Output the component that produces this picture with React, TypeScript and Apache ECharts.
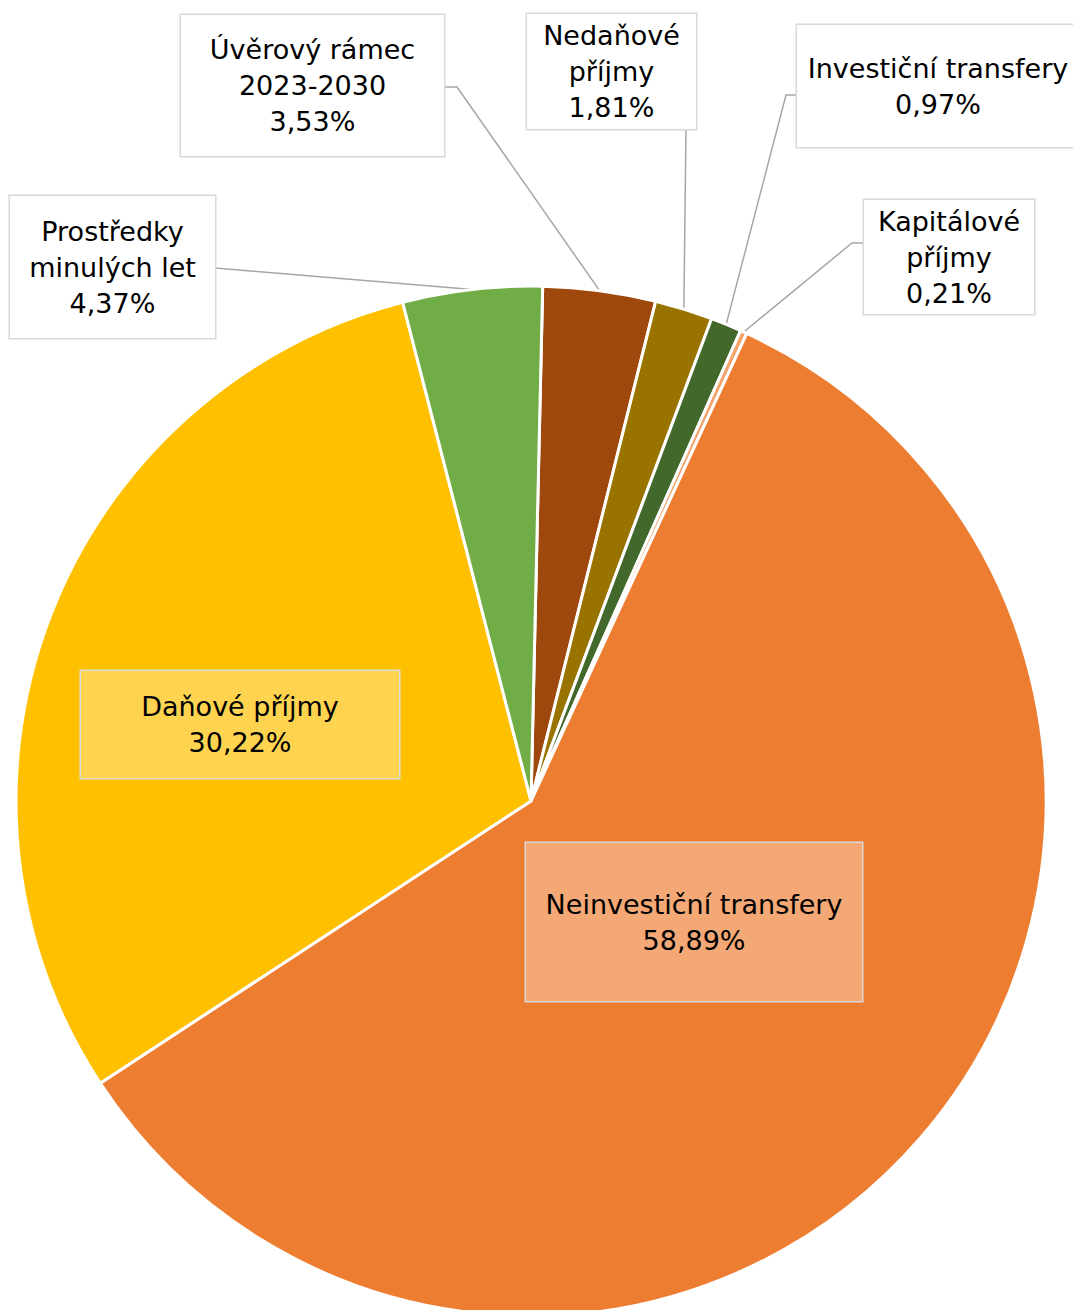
import React, { useEffect, useRef } from "react";
import * as echarts from "echarts";

// Data (clockwise from the top)
const categories = [
  "Úvěrový rámec\n2023-2030",
  "Nedaňové\npříjmy",
  "Investiční transfery",
  "Kapitálové\npříjmy",
  "Neinvestiční transfery",
  "Daňové příjmy",
  "Prostředky\nminulých let",
];
const shares = [3.53, 1.81, 0.97, 0.21, 58.89, 30.22, 4.37];
const colors = ["#9E480E", "#997300", "#43682B", "#F3A36A", "#ED7D31", "#FFC000", "#70AD47"];

// Label boxes layout: centre x, centre y, width, height, fill, inside?
const boxCx = [312.5, 611.5, 938, 949, 694, 240, 112.5];
const boxCy = [85.5, 71.5, 86, 257, 922, 724.5, 267];
const boxW = [263, 169, 282, 170, 336, 318, 205];
const boxH = [141, 115, 122, 114, 158, 107, 142];
const boxFill = ["#FFFFFF", "#FFFFFF", "#FFFFFF", "#FFFFFF", "#F3A875", "#FED350", "#FFFFFF"];
const inside = [false, false, false, false, true, true, false];
// Leader line elbow and end points (null for inside labels)
const elbows: (number[][] | null)[] = [
  [[457, 87], [444, 87]],
  [[686, 129], [686, 129]],
  [[786, 95], [797, 95]],
  [[852, 243], [864, 243]],
  null,
  null,
  [[215, 268], [215, 268]],
];

const CX = 531;
const CY = 801;
const R = 515;
const START = 88.7;
const LINE_H = 36;

function fmt(v: number) {
  return v.toFixed(2).replace(".", ",") + "%";
}

function edgePoint(i: number) {
  const total = shares.reduce((a, b) => a + b, 0);
  let acc = 0;
  for (let k = 0; k < i; k++) acc += shares[k];
  const mid = acc + shares[i] / 2;
  const deg = START - (mid / total) * 360;
  const rad = (deg * Math.PI) / 180;
  return [CX + R * Math.cos(rad), CY - R * Math.sin(rad)];
}

export default function App() {
  const ref = useRef<HTMLDivElement>(null);
  useEffect(() => {
    if (!ref.current) return;
    const chart = echarts.init(ref.current, null, { renderer: "svg" });
    const data = categories.map((name, i) => {
      const lines = (name + "\n").split("\n").length;
      const pv = (boxH[i] - lines * LINE_H) / 2;
      return {
        name,
        value: shares[i],
        itemStyle: { color: colors[i] },
        label: {
          position: inside[i] ? "inside" : "outside",
          backgroundColor: boxFill[i],
          borderColor: "#D9D9D9",
          borderWidth: 1.5,
          width: boxW[i],
          padding: [pv, 0, pv, 0],
          align: "center",
        },
        labelLine: { show: !inside[i] },
      };
    });
    chart.setOption({
      animation: false,
      backgroundColor: "#FFFFFF",
      series: [
        {
          type: "pie",
          center: [CX, CY],
          radius: R,
          startAngle: START,
          clockwise: true,
          avoidLabelOverlap: false,
          itemStyle: { borderColor: "#FFFFFF", borderWidth: 3 },
          label: {
            show: true,
            fontFamily: "DejaVu Sans",
            fontSize: 27,
            lineHeight: LINE_H,
            color: "#000000",
            formatter: (p: any) => p.name + "\n" + fmt(p.value),
          },
          labelLine: {
            show: true,
            length: 10,
            length2: 10,
            lineStyle: { color: "#A6A6A6", width: 1.5 },
          },
          labelLayout: (params: any) => {
            const i = params.dataIndex;
            const res: any = {
              x: boxCx[i],
              y: boxCy[i],
              align: "center",
              verticalAlign: "middle",
            };
            const el = elbows[i];
            if (el) {
              const p0 =
                params.labelLinePoints && params.labelLinePoints[0]
                  ? params.labelLinePoints[0]
                  : edgePoint(i);
              res.labelLinePoints = [p0, el[0], el[1]];
            }
            return res;
          },
          data,
        },
      ],
    });
    return () => chart.dispose();
  }, []);
  return (
    <div
      ref={ref}
      style={{ position: "absolute", left: 0, top: 0, width: 1073, height: 1310 }}
    />
  );
}
